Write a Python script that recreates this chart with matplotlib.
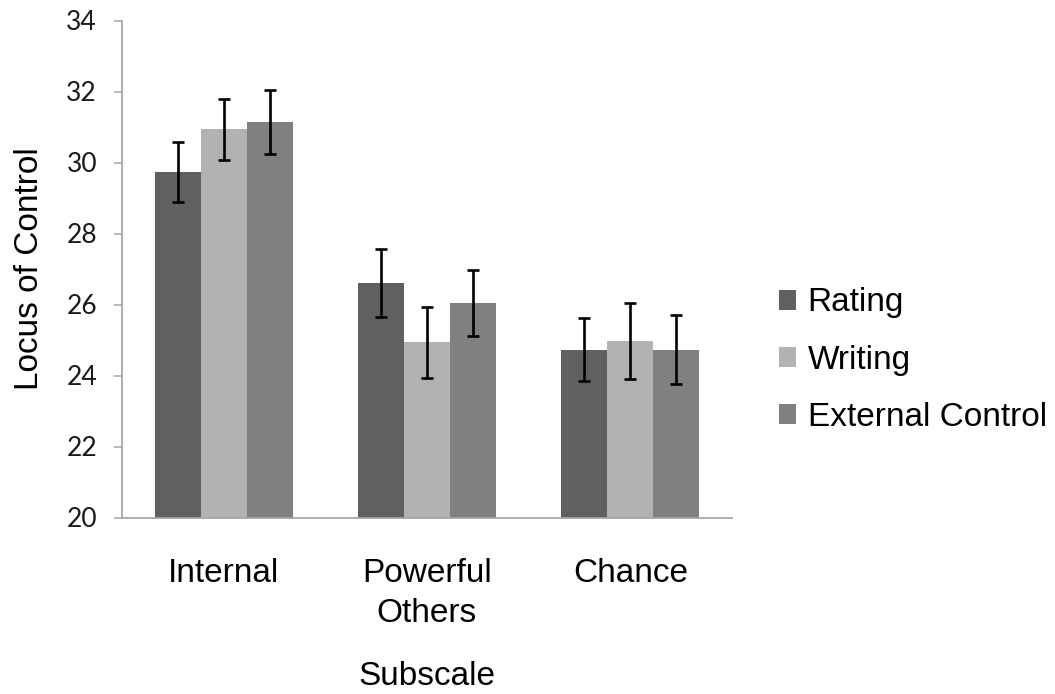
import numpy as np
import matplotlib.pyplot as plt

# values
subscales = ['Internal', 'Powerful\nOthers', 'Chance']
conditions = ['Rating', 'Writing', 'External Control']
rating = [29.73, 26.60, 24.73]
rating_err = [0.84, 0.96, 0.89]
writing = [30.93, 24.94, 24.98]
writing_err = [0.87, 1.00, 1.07]
external = [31.14, 26.03, 24.73]
external_err = [0.90, 0.93, 0.97]
yticks = [20, 22, 24, 26, 28, 30, 32, 34]

colors = ['#606060', '#b2b2b2', '#808080']
axis_grey = '#a6a6a6'

plt.rcParams['font.family'] = ['Liberation Sans', 'DejaVu Sans']

fig = plt.figure(figsize=(10.55, 6.94), dpi=100)
ax = fig.add_axes([122/1055, 1 - 517.5/694, 610/1055, (517.5 - 20.5)/694])

x = np.arange(len(subscales))
w = 0.226
series = [(rating, rating_err), (writing, writing_err), (external, external_err)]
for i, (vals, errs) in enumerate(series):
    ax.bar(x + (i - 1)*w, vals, w, color=colors[i], label=conditions[i],
           edgecolor='none', zorder=2)
    ax.errorbar(x + (i - 1)*w, vals, yerr=errs, fmt='none', ecolor='black',
                elinewidth=1.9, capsize=4.6, capthick=1.9, zorder=3)

ax.set_xlim(-0.5, 2.5)
ax.set_ylim(20, 34)
ax.set_yticks(yticks)
ax.set_yticklabels([str(t) for t in yticks], fontfamily='Lato', fontsize=19,
                   color='#1a1a1a')
ax.set_xticks(x)
ax.set_xticklabels(subscales, fontsize=24, linespacing=1.38)

ax.tick_params(axis='x', length=0, pad=29)
ax.tick_params(axis='y', direction='out', length=6, width=1.1, color=axis_grey, pad=12)

for s in ['top', 'right']:
    ax.spines[s].set_visible(False)
for s in ['left', 'bottom']:
    ax.spines[s].set_color(axis_grey)
    ax.spines[s].set_linewidth(1.3)

ax.set_xlabel('Subscale', fontsize=24, labelpad=23)
ax.set_ylabel('Locus of Control', fontsize=24, labelpad=15)

leg = ax.legend(loc='center left', bbox_to_anchor=(779/1055, 1 - 360/694),
                bbox_transform=fig.transFigure, frameon=False, fontsize=24,
                handlelength=0.5, handleheight=0.55, handletextpad=0.36,
                labelspacing=0.78, borderpad=0, borderaxespad=0)

plt.savefig('out.png', dpi=100)
